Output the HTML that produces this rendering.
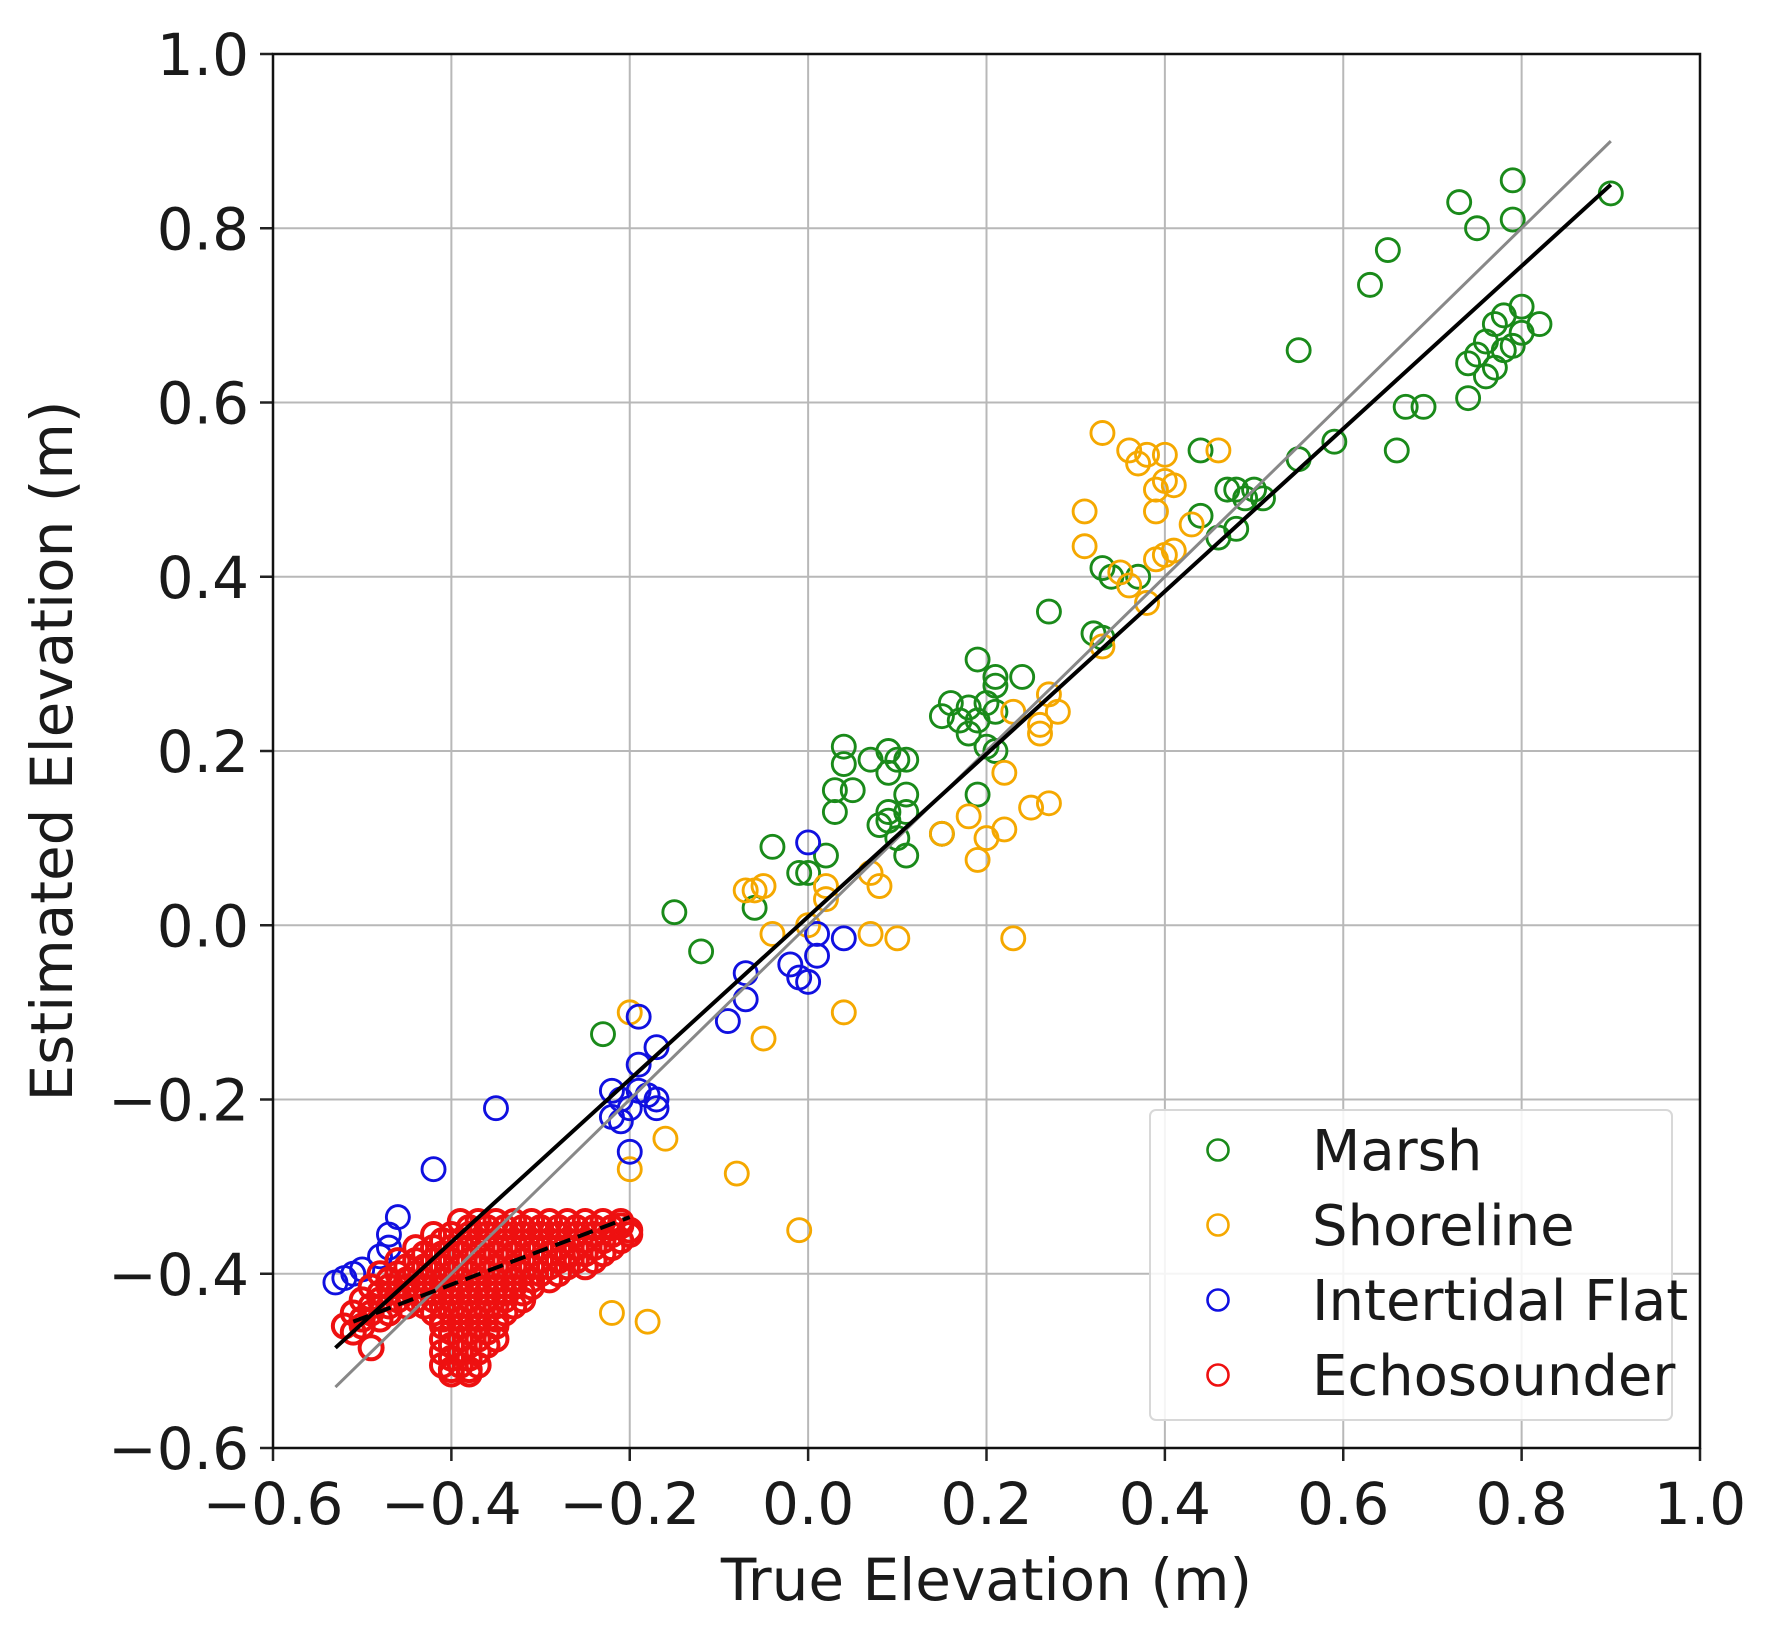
<!DOCTYPE html>
<html><head><meta charset="utf-8">
<style>
html,body{margin:0;padding:0;background:#fff;}
svg{display:block;}
text{font-family:"DejaVu Sans","Liberation Sans",sans-serif;fill:#1a1a1a;}
</style></head>
<body>
<svg id="chart" width="1767" height="1628" viewBox="0 0 1767 1628" xmlns="http://www.w3.org/2000/svg"></svg>
<script>
const xTicks=[-0.6,-0.4,-0.2,0.0,0.2,0.4,0.6,0.8,1.0];
const yTicks=[-0.6,-0.4,-0.2,0.0,0.2,0.4,0.6,0.8,1.0];
const xTickLabels=["\u22120.6","\u22120.4","\u22120.2","0.0","0.2","0.4","0.6","0.8","1.0"];
const yTickLabels=["\u22120.6","\u22120.4","\u22120.2","0.0","0.2","0.4","0.6","0.8","1.0"];
const seriesNames=["Marsh","Shoreline","Intertidal Flat","Echosounder"];
const seriesColors=["#1a8a1a","#f5a800","#1010e0","#ee1010"];
const marshX=[0.90,0.79,0.73,0.79,0.75,0.65,0.63,0.80,0.78,0.77,0.82,0.80,0.76,0.78,0.79,0.74,0.75,0.77,0.76,0.55,0.74,0.67,0.69,0.66,0.59,0.55,0.44,0.47,0.48,0.49,0.50,0.51,0.44,0.46,0.48,0.33,0.34,0.37,0.27,0.32,0.33,0.19,0.24,0.21,0.21,0.15,0.16,0.17,0.18,0.19,0.18,0.20,0.21,0.20,0.21,0.19,0.04,0.04,0.09,0.07,0.10,0.11,0.09,0.03,0.05,0.03,0.09,0.11,0.11,0.08,0.09,0.10,0.11,0.15,-0.04,-0.01,0.00,0.02,-0.06,-0.15,-0.12,-0.23];
const marshY=[0.84,0.855,0.83,0.81,0.80,0.775,0.735,0.71,0.70,0.69,0.69,0.68,0.67,0.66,0.665,0.645,0.655,0.64,0.63,0.66,0.605,0.595,0.595,0.545,0.555,0.535,0.545,0.50,0.50,0.49,0.50,0.49,0.47,0.445,0.455,0.41,0.40,0.40,0.36,0.335,0.33,0.305,0.285,0.285,0.275,0.24,0.255,0.235,0.25,0.235,0.22,0.255,0.245,0.205,0.20,0.15,0.205,0.185,0.20,0.19,0.19,0.19,0.175,0.155,0.155,0.13,0.13,0.15,0.13,0.115,0.12,0.10,0.08,0.105,0.09,0.06,0.06,0.08,0.02,0.015,-0.03,-0.125];
const shoreX=[0.33,0.36,0.37,0.38,0.40,0.46,0.39,0.40,0.41,0.39,0.31,0.31,0.35,0.36,0.38,0.40,0.41,0.43,0.39,0.33,0.27,0.28,0.26,0.26,0.23,0.22,0.27,0.25,0.22,0.20,0.18,0.15,0.19,0.08,0.07,0.02,0.02,-0.05,-0.06,-0.07,-0.04,0.00,0.07,0.10,0.23,-0.05,0.04,-0.20,-0.20,-0.16,-0.08,-0.01,-0.22,-0.18];
const shoreY=[0.565,0.545,0.53,0.54,0.54,0.545,0.50,0.51,0.505,0.475,0.475,0.435,0.405,0.39,0.37,0.425,0.43,0.46,0.42,0.32,0.265,0.245,0.23,0.22,0.245,0.175,0.14,0.135,0.11,0.10,0.125,0.105,0.075,0.045,0.06,0.045,0.03,0.045,0.04,0.04,-0.01,0.00,-0.01,-0.015,-0.015,-0.13,-0.10,-0.10,-0.28,-0.245,-0.285,-0.35,-0.445,-0.455];
const flatX=[0.00,0.01,0.04,0.01,-0.02,-0.01,0.00,-0.07,-0.07,-0.09,-0.19,-0.17,-0.19,-0.22,-0.21,-0.19,-0.18,-0.17,-0.17,-0.22,-0.21,-0.20,-0.20,-0.35,-0.42,-0.46,-0.47,-0.48,-0.50,-0.51,-0.52,-0.53,-0.47];
const flatY=[0.095,-0.01,-0.015,-0.035,-0.045,-0.06,-0.065,-0.055,-0.085,-0.11,-0.105,-0.14,-0.16,-0.19,-0.20,-0.19,-0.195,-0.20,-0.21,-0.22,-0.225,-0.21,-0.26,-0.21,-0.28,-0.335,-0.355,-0.38,-0.395,-0.40,-0.405,-0.41,-0.37];
const echoX=[-0.39,-0.37,-0.35,-0.33,-0.31,-0.29,-0.27,-0.25,-0.23,-0.21,
-0.42,-0.40,-0.38,-0.36,-0.34,-0.32,-0.30,-0.28,-0.26,-0.24,-0.22,-0.20,
-0.44,-0.42,-0.40,-0.38,-0.36,-0.34,-0.32,-0.30,-0.28,-0.26,-0.24,-0.22,
-0.46,-0.44,-0.42,-0.40,-0.38,-0.36,-0.34,-0.32,-0.30,-0.28,-0.26,-0.24,
-0.48,-0.46,-0.44,-0.42,-0.40,-0.38,-0.36,-0.34,-0.32,-0.30,-0.28,
-0.49,-0.47,-0.45,-0.43,-0.41,-0.39,-0.37,-0.35,-0.33,-0.31,
-0.50,-0.48,-0.46,-0.44,-0.42,-0.40,-0.38,-0.36,-0.34,-0.32,
-0.51,-0.49,-0.47,-0.42,-0.40,-0.38,-0.36,-0.34,
-0.52,-0.50,-0.41,-0.39,-0.37,-0.35,
-0.41,-0.39,-0.37,-0.35,
-0.41,-0.39,-0.37,
-0.41,-0.39,-0.37,
-0.40,-0.38,
-0.20,-0.21,-0.27,-0.49,
-0.38,-0.36,-0.34,-0.32,-0.30,-0.28,-0.26,-0.24,-0.22,
-0.41,-0.39,-0.37,-0.35,-0.33,-0.31,-0.29,-0.27,-0.25,-0.23,-0.21,
-0.43,-0.41,-0.39,-0.37,-0.35,-0.33,-0.31,-0.29,-0.27,-0.25,-0.23,
-0.45,-0.43,-0.41,-0.39,-0.37,-0.35,-0.33,-0.31,-0.29,-0.27,-0.25,
-0.47,-0.45,-0.43,-0.41,-0.39,-0.37,-0.35,-0.33,-0.31,-0.29,
-0.48,-0.46,-0.44,-0.42,-0.40,-0.38,-0.36,-0.34,-0.32,
-0.49,-0.47,-0.45,-0.43,-0.41,-0.39,-0.37,-0.35,-0.33,
-0.50,-0.48,-0.41,-0.39,-0.37,-0.35,
-0.51,-0.40,-0.38,-0.36,
-0.40,-0.38,-0.36,
-0.40,-0.38,
-0.40,-0.38];
const echoY=[-0.34,-0.34,-0.34,-0.34,-0.34,-0.34,-0.34,-0.34,-0.34,-0.34,
-0.355,-0.355,-0.355,-0.355,-0.355,-0.355,-0.355,-0.355,-0.355,-0.355,-0.355,-0.355,
-0.37,-0.37,-0.37,-0.37,-0.37,-0.37,-0.37,-0.37,-0.37,-0.37,-0.37,-0.37,
-0.385,-0.385,-0.385,-0.385,-0.385,-0.385,-0.385,-0.385,-0.385,-0.385,-0.385,-0.385,
-0.40,-0.40,-0.40,-0.40,-0.40,-0.40,-0.40,-0.40,-0.40,-0.40,-0.40,
-0.415,-0.415,-0.415,-0.415,-0.415,-0.415,-0.415,-0.415,-0.415,-0.415,
-0.43,-0.43,-0.43,-0.43,-0.43,-0.43,-0.43,-0.43,-0.43,-0.43,
-0.445,-0.445,-0.445,-0.445,-0.445,-0.445,-0.445,-0.445,
-0.46,-0.46,-0.46,-0.46,-0.46,-0.46,
-0.475,-0.475,-0.475,-0.475,
-0.49,-0.49,-0.49,
-0.505,-0.505,-0.505,
-0.515,-0.515,
-0.35,-0.345,-0.38,-0.485,
-0.347,-0.347,-0.347,-0.347,-0.347,-0.347,-0.347,-0.347,-0.347,
-0.362,-0.362,-0.362,-0.362,-0.362,-0.362,-0.362,-0.362,-0.362,-0.362,-0.362,
-0.377,-0.377,-0.377,-0.377,-0.377,-0.377,-0.377,-0.377,-0.377,-0.377,-0.377,
-0.392,-0.392,-0.392,-0.392,-0.392,-0.392,-0.392,-0.392,-0.392,-0.392,-0.392,
-0.407,-0.407,-0.407,-0.407,-0.407,-0.407,-0.407,-0.407,-0.407,-0.407,
-0.422,-0.422,-0.422,-0.422,-0.422,-0.422,-0.422,-0.422,-0.422,
-0.437,-0.437,-0.437,-0.437,-0.437,-0.437,-0.437,-0.437,-0.437,
-0.452,-0.452,-0.452,-0.452,-0.452,-0.452,
-0.467,-0.467,-0.467,-0.467,
-0.482,-0.482,-0.482,
-0.497,-0.497,
-0.51,-0.51];
const oneToOneX=[-0.53,0.90];
const oneToOneY=[-0.53,0.90];
const fitX=[-0.53,0.90];
const fitY=[-0.485,0.85];
const echoFitX=[-0.51,-0.20];
const echoFitY=[-0.455,-0.335];

const L=273,R=1700,T=54,B=1448,XMIN=-0.6,XMAX=1.0,YMIN=-0.6,YMAX=1.0;
function sx(v){return L+(v-XMIN)/(XMAX-XMIN)*(R-L);}
function sy(v){return B-(v-YMIN)/(YMAX-YMIN)*(B-T);}
const NS="http://www.w3.org/2000/svg";
const svg=document.getElementById('chart');
function mk(tag,attrs,parent){const e=document.createElementNS(NS,tag);for(const k in attrs)e.setAttribute(k,attrs[k]);(parent||svg).appendChild(e);return e;}

const grid=mk('g',{});


xTicks.forEach((v,i)=>{
  const g=mk('line',{x1:sx(v),x2:sx(v),y1:T,y2:B,stroke:'#b8b8b8','stroke-width':2},grid);
  
  
  const t=mk('line',{x1:sx(v),x2:sx(v),y1:B,y2:B+13,stroke:'#222','stroke-width':2.5});
  
  
  const lb=mk('text',{x:sx(v),y:B+76,'text-anchor':'middle','font-size':58});
  lb.textContent=xTickLabels[i];
  
  
});
yTicks.forEach((v,i)=>{
  const g=mk('line',{x1:L,x2:R,y1:sy(v),y2:sy(v),stroke:'#b8b8b8','stroke-width':2},grid);
  
  
  const t=mk('line',{x1:L-13,x2:L,y1:sy(v),y2:sy(v),stroke:'#222','stroke-width':2.5});
  
  
  const lb=mk('text',{x:L-24,y:sy(v)+21,'text-anchor':'end','font-size':58});
  lb.textContent=yTickLabels[i];
  
  
});

function scatter(xs,ys,color,name,sw){
  const g=mk('g',{});
  
  
  for(let i=0;i<xs.length;i++){
    const c=mk('circle',{cx:sx(xs[i]),cy:sy(ys[i]),r:11.5,fill:'none',stroke:color,'stroke-width':sw},g);
    
    
  }
}
scatter(marshX,marshY,seriesColors[0],'marsh',2.9);
scatter(shoreX,shoreY,seriesColors[1],'shoreline',2.9);
scatter(flatX,flatY,seriesColors[2],'intertidal-flat',2.9);
scatter(echoX,echoY,seriesColors[3],'echosounder',4);

const l1=mk('line',{x1:sx(oneToOneX[0]),y1:sy(oneToOneY[0]),x2:sx(oneToOneX[1]),y2:sy(oneToOneY[1]),stroke:'#888','stroke-width':3});


const l2=mk('line',{x1:sx(fitX[0]),y1:sy(fitY[0]),x2:sx(fitX[1]),y2:sy(fitY[1]),stroke:'#000','stroke-width':4});


const l3=mk('line',{x1:sx(echoFitX[0]),y1:sy(echoFitY[0]),x2:sx(echoFitX[1]),y2:sy(echoFitY[1]),stroke:'#000','stroke-width':4,'stroke-dasharray':'16,8'});



const frame=mk('rect',{x:L,y:T,width:R-L,height:B-T,fill:'none',stroke:'#111','stroke-width':2.5});



const leg=mk('g',{});


const lr=mk('rect',{x:1150,y:1110,width:522,height:310,rx:6,fill:'rgba(255,255,255,0.85)',stroke:'#d8d8d8','stroke-width':2},leg);


seriesNames.forEach((n,i)=>{
  const y=1150+i*75;
  const c=mk('circle',{cx:1218,cy:y,r:10.5,fill:'none',stroke:seriesColors[i],'stroke-width':2.6},leg);
  
  
  const t=mk('text',{x:1312,y:y+20,'font-size':56},leg);
  t.textContent=n;
  
  
});

const xl=mk('text',{x:(L+R)/2,y:1600,'text-anchor':'middle','font-size':58});
xl.textContent='True Elevation (m)';


const yl=mk('text',{x:0,y:0,'text-anchor':'middle','font-size':58,transform:'translate(72,'+((T+B)/2)+') rotate(-90)'});
yl.textContent='Estimated Elevation (m)';


</script>
</body></html>
